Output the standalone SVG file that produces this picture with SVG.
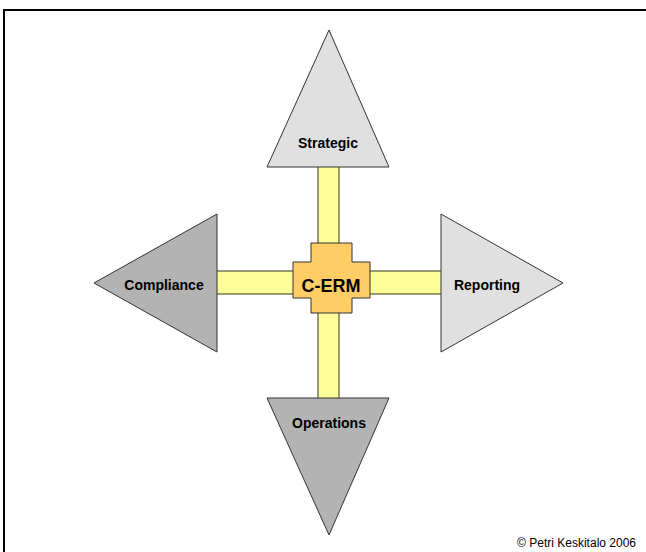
<svg xmlns="http://www.w3.org/2000/svg" width="646" height="552" viewBox="0 0 646 552">
<style>
.bar{fill:#ffff99;stroke:#555533;stroke-width:1.2}
.light{fill:#e0e0e0;stroke:#333;stroke-width:1}
.dark{fill:#b3b3b3;stroke:#333;stroke-width:1}
.lbl{font-family:"Liberation Sans",Arial,sans-serif;font-weight:bold;font-size:14px;fill:#000;text-anchor:middle}
</style>
<rect x="0" y="0" width="646" height="552" fill="#fff"/>
<path d="M4,560 V10 H660" fill="none" stroke="#000" stroke-width="2"/>
<g id="connectors">
<rect class="bar" x="318" y="166" width="21" height="78"/>
<rect class="bar" x="318" y="312" width="21" height="87"/>
<rect class="bar" x="216" y="271" width="78" height="23"/>
<rect class="bar" x="369" y="271" width="73" height="23"/>
</g>
<g id="strategic">
<polygon class="light" points="329,30 389,167 267,167"/>
<text class="lbl" x="328" y="148">Strategic</text>
</g>
<g id="compliance">
<polygon class="dark" points="94,283 217,214 217,352"/>
<text class="lbl" x="164" y="290">Compliance</text>
</g>
<g id="reporting">
<polygon class="light" points="441,214 563,283 441,352"/>
<text class="lbl" x="487" y="290">Reporting</text>
</g>
<g id="operations">
<polygon class="dark" points="267,398 389,398 329,535"/>
<text class="lbl" x="329" y="428">Operations</text>
</g>
<g id="cerm">
<polygon points="311,243 352,243 352,262 370,262 370,298 352,298 352,313 311,313 311,298 293,298 293,262 311,262" fill="#ffcc66" stroke="#333" stroke-width="1"/>
<text class="lbl" x="331" y="292" font-size="18" style="font-size:18px">C-ERM</text>
</g>
<text x="636" y="547" font-family="'Liberation Sans',Arial,sans-serif" font-size="12" text-anchor="end" fill="#000">© Petri Keskitalo 2006</text>
</svg>
